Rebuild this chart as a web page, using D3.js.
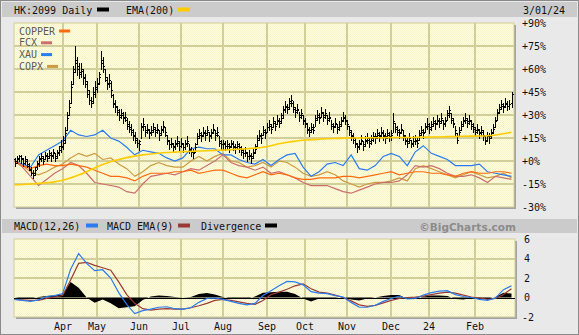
<!DOCTYPE html>
<html><head><meta charset="utf-8">
<script src="https://cdn.jsdelivr.net/npm/d3@7"></script>
<style>html,body{margin:0;padding:0;background:#e9e9e9}svg{display:block}</style>
</head><body><svg id="c" width="579" height="335"></svg>
<script>
// HK:2099 daily bars, % change from first close: [high, low, close]
const bars = [
  // Mar 2023
  [2,-3,0],[3,-1,1],[4,0,3],[4,-1,2],[2,-3,-1],[3,-2,1],[1,-4,-2],[-1,-6,-5],[-4,-9,-8],[-6,-11,-9],[-4,-9,-6],[0,-5,-2],
  [3,-3,1],[5,0,3],[3,-2,0],[6,1,4],[5,0,2],[7,2,5],[6,0,3],[8,2,6],[5,0,2],[7,2,5],[10,4,7],[14,6,9],
  // Apr
  [16,8,12],[22,12,18],[32,20,28],[40,30,35],[52,38,48],[62,50,58],[75,58,66],[68,56,62],[64,54,58],[64,55,60],
  [60,50,55],[57,48,52],[52,42,46],[46,37,40],[42,35,38],[48,38,44],[52,42,47],
  // May
  [54,45,50],[58,50,55],[72,60,66],[68,58,62],[60,52,55],[55,47,50],[57,48,53],[52,42,46],[44,35,38],[40,32,36],
  [36,30,33],[34,27,30],[34,28,31],[32,25,28],[32,26,29],[28,21,24],[26,19,22],[24,17,20],[21,14,17],[19,12,15],[15,9,12],
  // Jun
  [14,7,11],[25,15,22],[28,20,24],[23,16,19],[24,18,21],[21,15,18],[23,17,20],[25,19,22],[22,16,19],[24,18,21],
  [20,14,17],[23,17,20],[26,19,23],[22,16,19],[17,11,14],[14,8,11],[15,9,12],[12,6,9],[14,8,11],[16,10,13],[13,7,10],
  // Jul
  [15,9,12],[12,6,9],[14,8,11],[16,10,13],[11,5,8],[9,3,6],[8,2,5],[12,6,9],[18,11,15],[21,15,18],
  [19,13,16],[22,16,19],[20,14,17],[23,17,20],[19,13,16],[21,15,18],[24,18,21],[20,14,17],[22,16,19],[16,10,13],[14,8,11],
  // Aug
  [14,8,12],[13,7,10],[14,8,11],[12,6,9],[14,9,12],[13,7,10],[11,5,8],[13,8,11],[12,6,9],[10,4,7],[8,2,5],[9,3,6],
  [6,0,3],[7,1,4],[5,-1,2],[8,2,5],[11,5,8],[17,10,14],[20,14,17],[18,12,15],[23,17,20],[21,15,18],[25,19,22],
  // Sep
  [27,20,24],[24,18,21],[29,22,26],[26,20,23],[30,24,27],[28,22,25],[31,25,28],[36,28,33],[39,32,36],[37,31,34],
  [41,34,38],[43,36,40],[39,32,35],[35,29,32],[37,31,34],[32,26,29],[34,28,31],[30,24,27],[28,22,25],
  // Oct
  [25,18,21],[22,16,19],[25,19,22],[24,18,20],[30,23,27],[33,27,30],[31,25,28],[35,29,32],[32,26,29],[34,28,31],
  [30,24,27],[32,26,29],[27,21,24],[25,19,22],[28,22,25],[24,18,21],[26,20,23],[29,23,26],[32,26,29],[30,24,27],
  // Nov
  [27,21,24],[23,17,20],[20,14,17],[18,12,15],[15,9,12],[12,6,9],[14,8,11],[17,11,14],[13,7,10],[16,10,13],[18,12,15],
  [15,9,12],[17,11,14],[19,13,16],[18,12,15],[21,15,18],[19,13,16],[22,16,19],[20,14,17],[18,12,15],[21,15,18],[19,13,16],
  // Dec
  [20,14,17],[31,19,26],[25,19,22],[23,17,20],[21,15,18],[24,18,21],[20,14,17],[17,11,14],[15,9,12],[18,12,15],
  [14,9,11],[16,10,13],[17,11,14],[15,9,12],[20,14,17],[23,17,20],[21,15,18],[25,19,22],[28,21,24],
  // Jan 2024
  [25,18,21],[26,20,23],[29,23,26],[27,21,24],[30,24,27],[28,22,25],[31,25,28],[27,21,24],[29,23,26],[33,27,30],[36,29,33],
  [31,25,28],[28,22,25],[23,17,20],[18,12,14],[22,16,19],[26,20,23],[29,23,26],[31,25,28],[28,22,25],[30,24,27],[27,21,24],
  // Feb
  [25,19,22],[22,16,19],[24,18,21],[21,15,18],[23,17,20],[20,14,17],[16,11,13],[19,13,16],[18,12,15],[21,15,18],
  [24,18,21],[29,22,26],[34,27,31],[37,31,34],[40,34,37],[38,32,35],[41,35,38],[39,33,36],[40,34,37],
  // Mar 1
  [45,35,44]
];
// opening levels for the same sessions (% change)
const opens = [
  1,-1,2,3,1,-1,0,-3,-6,-8,-8,-4,-1,2,2,1,3,3,4,4,5,3,6,10,
  10,14,20,30,38,50,60,64,60,57,59,54,50,44,40,39,45,
  48,51,57,64,60,53,51,51,43,37,35,32,29,30,29,27,23,21,19,16,14,
  12,13,23,23,20,20,19,19,21,20,20,18,21,22,17,13,11,11,10,12,12,
  10,11,9,12,12,7,6,6,11,16,17,17,18,18,19,17,19,20,18,17,12,
  11,11,10,10,10,11,9,9,10,8,6,5,5,3,3,3,6,10,15,16,17,19,19,
  22,23,22,25,24,26,26,30,34,35,35,39,38,34,33,33,30,30,26,
  24,20,20,21,22,28,29,29,31,30,30,28,28,23,23,24,22,24,27,28,
  26,23,19,16,14,11,10,12,13,11,14,14,13,15,16,16,17,17,18,16,16,17,
  16,18,25,21,19,19,20,16,13,13,14,12,13,13,14,18,19,19,23,
  23,22,24,25,25,26,26,27,25,27,31,31,27,24,18,16,20,24,27,27,26,26,
  23,21,20,20,19,19,16,14,16,16,19,22,27,32,35,36,36,37,36,
  38
];

// Overlay series, sampled every 4th session (% change)
const sampleStep = 4;
const ema200 = [-15.5,-15.3,-15,-14.6,-14.2,-13.6,-12.6,-11,-9.2,-7,-4.5,-2.3,-0.5,1,2.2,3.2,4,4.6,5.1,5.5,5.8,6.1,6.3,6.5,6.7,6.9,7.1,7.4,7.7,8,8.4,9,10,11.2,12.2,12.9,13.5,13.9,14.2,14.5,14.7,14.9,15,15,15.1,15.2,15.2,15.3,15.3,15.3,15.4,15.5,15.6,15.7,15.9,16,16.1,16.2,16.3,16.5,17,17.8,18.8];
const copper = [0,-3,-5,-3,-2,-3,-3,-2,-3,-4,-6,-8,-10,-10,-11,-13,-10,-8,-8,-8,-7,-7,-6,-8,-7,-6,-6,-8,-10,-11,-9,-7,-9,-8,-9,-11,-12,-12,-11,-11,-11,-10,-10,-11,-10,-9,-8,-7,-9,-8,-7,-7,-8,-8,-9,-10,-8,-7,-8,-8,-7,-7,-8];
const fcx = [0,-4,-10,-16,-12,-8,-5,-1,-3,-8,-14,-15,-16,-17,-20,-21,-15,-10,-9,-8,-9,-7,-5,-6,-3,0,4,-1,-3,-4,-6,-4,-8,-7,-9,-11,-14,-16,-16,-16,-18,-20,-21,-19,-17,-15,-14,-14,-13,-9,-3,-4,-3,-5,-8,-10,-10,-9,-11,-14,-10,-11,-12];
const xau = [0,-2,-4,4,7,10,13,20,17,16,17,20,15,13,9,4,7,6,5,2,0,2,8,9,8,8,4,4,1,-1,-2,1,-3,1,4,5,-4,-10,-7,-2,-1,-3,4,-5,-6,-3,3,5,3,-3,6,10,5,3,1,-3,-3,-3,-2,-7,-8,-9,-10];
const copx = [0,-3,-7,-9,-7,-4,-2,2,5,3,5,1,2,-2,-5,-10,-7,-3,-1,-3,-4,-4,0,3,0,3,5,0,-1,-4,-3,-1,-4,0,-1,-4,-8,-10,-9,-7,-9,-13,-15,-17,-15,-14,-14,-13,-11,-13,-5,-3,-5,-7,-9,-11,-9,-7,-9,-11,-10,-8,-11];

// MACD(12,26), its 9-day EMA and the divergence, same sampling
const macd = [-0.2,-0.3,-0.4,-0.25,0.1,0.2,0.4,2.9,4.5,3.5,2.75,2.85,2.0,0.5,-0.7,-1.65,-1.35,-1.2,-1.0,-0.95,-1.15,-1.2,-1.05,-0.5,-0.1,-0.05,-0.2,-0.4,-0.6,-0.75,-0.6,0.2,0.7,1.2,1.65,1.6,1.3,0.6,0.45,0.4,0.2,0.05,-0.5,-1.0,-1.0,-0.8,-0.4,-0.1,0.15,-0.15,-0.1,0.25,0.5,0.65,0.7,0.3,0.1,0.0,-0.2,-0.3,-0.05,0.8,1.2];
const macdSignal = [-0.2,-0.25,-0.3,-0.3,-0.1,0.05,0.2,1.8,3.5,3.6,3.3,3.05,2.8,1.6,0.3,-0.6,-1.15,-1.3,-1.2,-1.15,-1.2,-1.2,-1.05,-0.85,-0.6,-0.3,-0.2,-0.3,-0.45,-0.6,-0.7,-0.3,0.3,0.55,0.85,1.2,1.4,0.9,0.55,0.45,0.25,0.0,-0.35,-0.75,-0.9,-0.8,-0.55,-0.3,-0.1,0.0,0.05,0.15,0.3,0.45,0.55,0.45,0.25,0.05,-0.05,-0.2,-0.1,0.3,0.9];
const divergence = [0,-0.1,-0.1,0.05,0.15,0.2,0.3,1.6,1.0,0.0,-0.55,-0.2,-0.6,-1.1,-1.0,-0.9,-0.25,0.1,0.2,0.15,0.05,0.0,0.05,0.35,0.45,0.3,0.05,-0.1,-0.15,-0.15,0.1,0.5,0.55,0.6,0.6,0.35,-0.1,-0.4,-0.1,-0.05,-0.05,0.05,-0.2,-0.3,-0.1,0.0,0.15,0.25,0.25,-0.15,-0.15,0.1,0.2,0.2,0.15,-0.15,-0.2,-0.05,-0.15,-0.1,0.05,0.5,0.4];

// Axis ticks
const monthLabels = ["Apr","May","Jun","Jul","Aug","Sep","Oct","Nov","Dec","24","Feb"];
const monthStarts = [24,41,62,83,104,126,145,166,188,207,230];
const pctTicks = [90,75,60,45,30,15,0,-15,-30];
const macdTicks = [6,4,2,0,-2];

const overlays = [
  {name:"COPPER", values:copper, color:"#ff6a10"},
  {name:"FCX", values:fcx, color:"#cc6e6e"},
  {name:"XAU", values:xau, color:"#2a7cf0"},
  {name:"COPX", values:copx, color:"#cc9a40"}
];

const W = 579, H = 335;
const mono = "'DejaVu Sans Mono', monospace";
const svg = d3.select("#c");

const main = {l:14, r:514, t:23, b:207};
const low = {l:14, r:515, t:239, b:317};

const x = d3.scaleLinear().domain([0, bars.length - 1]).range([14.5, 511.5]);
const y = d3.scaleLinear().domain([-30, 90]).range([main.b, main.t]);
const my = d3.scaleLinear().domain([-2, 6]).range([low.b, low.t]);

// dithered pale-yellow plot fill
const defs = svg.append("defs");
const pat = defs.append("pattern").attr("id","dith").attr("width",2).attr("height",2).attr("patternUnits","userSpaceOnUse");
pat.append("rect").attr("width",2).attr("height",2).attr("fill","#ffffe0");
pat.append("rect").attr("x",0).attr("y",0).attr("width",1).attr("height",1).attr("fill","#f6f3c8");
pat.append("rect").attr("x",1).attr("y",1).attr("width",1).attr("height",1).attr("fill","#f6f3c8");
defs.append("clipPath").attr("id","clipMain").append("rect")
  .attr("x",main.l).attr("y",main.t).attr("width",main.r-main.l).attr("height",main.b-main.t);
defs.append("clipPath").attr("id","clipLow").append("rect")
  .attr("x",low.l).attr("y",low.t).attr("width",low.r-low.l).attr("height",low.b-low.t);

// page frame and title bars
svg.append("rect").attr("x",0.5).attr("y",0.5).attr("width",W-1).attr("height",H-1)
  .attr("fill","#e9e9e9").attr("stroke","#8a8a8a");
svg.append("rect").attr("x",2).attr("y",2).attr("width",W-4).attr("height",15).attr("fill","#cbcbcb");
svg.append("rect").attr("x",2).attr("y",219).attr("width",W-4).attr("height",14).attr("fill","#cbcbcb");

function legendRow(g, items, yBase) {
  items.forEach(it => {
    g.append("text").attr("x",it.x).attr("y",yBase).attr("font-family",mono).attr("font-size",10)
      .attr("fill","#111").text(it.text);
    g.append("rect").attr("x",it.sx).attr("y",yBase-6).attr("width",12).attr("height",4).attr("fill",it.color);
  });
}
const head = svg.append("g");
legendRow(head, [
  {text:"HK:2099 Daily", x:14, sx:97, color:"#000"},
  {text:"EMA(200)", x:126, sx:178, color:"#ffcc00"}
], 13.5);
head.append("text").attr("x",523).attr("y",13.5).attr("font-family",mono).attr("font-size",10)
  .attr("fill","#111").text("3/01/24");
legendRow(head, [
  {text:"MACD(12,26)", x:14, sx:86, color:"#2a7cf0"},
  {text:"MACD EMA(9)", x:107, sx:178, color:"#9a3a36"},
  {text:"Divergence", x:201, sx:265, color:"#000"}
], 229.5);
head.append("text").attr("x",516).attr("y",230.5).attr("text-anchor","end")
  .attr("font-family","'DejaVu Sans', sans-serif").attr("font-weight","bold").attr("font-size",10.5)
  .attr("fill","#8c8c8c").text("\u00A9BigCharts.com");

// plot panels with shadow
function panel(p) {
  svg.append("rect").attr("x",p.l+2).attr("y",p.t+2).attr("width",p.r-p.l).attr("height",p.b-p.t).attr("fill","#a3a3a3");
  svg.append("rect").attr("x",p.l).attr("y",p.t).attr("width",p.r-p.l).attr("height",p.b-p.t)
    .attr("fill","url(#dith)").attr("stroke","#cfcb98").attr("stroke-width",1);
}
panel(main);
panel(low);

const gridColor = "#d2ce9a";
// main grid
const gm = svg.append("g").attr("clip-path","url(#clipMain)");
gm.selectAll(".h").data(pctTicks.filter(t => t > -30 && t < 90)).join("line")
  .attr("x1",main.l).attr("x2",main.r).attr("y1",d=>Math.round(y(d))).attr("y2",d=>Math.round(y(d)))
  .attr("stroke",gridColor).attr("stroke-width",2);
gm.selectAll(".v").data(monthStarts).join("line")
  .attr("x1",d=>Math.round(x(d))).attr("x2",d=>Math.round(x(d))).attr("y1",main.t).attr("y2",main.b)
  .attr("stroke",gridColor).attr("stroke-width",2);

// overlay comparison lines
const lineOf = d3.line().x((d,k)=>x(k*sampleStep)).y(d=>y(d));
overlays.slice().reverse().forEach(o => {
  gm.append("path").attr("d",lineOf(o.values)).attr("fill","none").attr("stroke",o.color).attr("stroke-width",1.2);
});

// price bars: high-low stem, open tick left, close tick right (pixel aligned)
const gb = gm.append("g").attr("stroke","#000").attr("stroke-width",1).attr("shape-rendering","crispEdges");
bars.forEach((b,i) => {
  const rx = Math.round(x(i));
  const bx = rx + 0.5;
  gb.append("line").attr("x1",bx).attr("x2",bx).attr("y1",Math.round(y(b[0]))).attr("y2",Math.round(y(b[1])) + 1);
  const oy = Math.round(y(opens[i])) + 0.5;
  gb.append("line").attr("x1",rx-1).attr("x2",rx).attr("y1",oy).attr("y2",oy);
  const cy = Math.round(y(b[2])) + 0.5;
  gb.append("line").attr("x1",rx+1).attr("x2",rx+2).attr("y1",cy).attr("y2",cy);
});

// 200-day EMA
gm.append("path").attr("d",d3.line().x((d,k)=>x(k*sampleStep)).y(d=>y(d)).curve(d3.curveMonotoneX)(ema200))
  .attr("fill","none").attr("stroke","#ffcc00").attr("stroke-width",1.6);

// legend inside price panel
overlays.forEach((o,k) => {
  const by = 34.5 + k*11.8;
  svg.append("text").attr("x",19).attr("y",by).attr("font-family",mono).attr("font-size",10)
    .attr("fill","#5a5a5a").text(o.name);
  svg.append("rect").attr("x",19 + o.name.length*6.02 + 4).attr("y",by-5).attr("width",11).attr("height",3).attr("fill",o.color);
});

// right % axis
svg.append("g").selectAll("text").data(pctTicks).join("text")
  .attr("x",522).attr("y",d=>y(d)+3.5).attr("font-family",mono).attr("font-size",10).attr("fill","#111")
  .text(d => (d >= 0 ? "+" : "") + d + "%");

// MACD panel
const gl = svg.append("g").attr("clip-path","url(#clipLow)");
gl.selectAll(".h").data(macdTicks.filter(t => t > -2 && t < 6 && t !== 0)).join("line")
  .attr("x1",low.l).attr("x2",low.r).attr("y1",d=>Math.round(my(d))).attr("y2",d=>Math.round(my(d)))
  .attr("stroke",gridColor).attr("stroke-width",2);
gl.selectAll(".v").data(monthStarts).join("line")
  .attr("x1",d=>Math.round(x(d))).attr("x2",d=>Math.round(x(d))).attr("y1",low.t).attr("y2",low.b)
  .attr("stroke",gridColor).attr("stroke-width",2);
gl.append("path").attr("d", d3.area().x((d,k)=>x(k*sampleStep)).y0(my(0)).y1(d=>my(d))(divergence))
  .attr("fill","#000");
gl.append("line").attr("x1",low.l).attr("x2",low.r).attr("y1",Math.round(my(0))+0.5).attr("y2",Math.round(my(0))+0.5)
  .attr("stroke","#000").attr("stroke-width",1);
const mline = d3.line().x((d,k)=>x(k*sampleStep)).y(d=>my(d));
gl.append("path").attr("d",mline(macdSignal)).attr("fill","none").attr("stroke","#9a3a36").attr("stroke-width",1.2);
gl.append("path").attr("d",mline(macd)).attr("fill","none").attr("stroke","#2a7cf0").attr("stroke-width",1.2);

svg.append("g").selectAll("text").data(macdTicks).join("text")
  .attr("x",d => d < 0 ? 522 : 524).attr("y",d=>my(d)+3.5).attr("font-family",mono).attr("font-size",10).attr("fill","#111")
  .text(d => d);

// month labels
svg.append("g").selectAll("text").data(monthStarts).join("text")
  .attr("x",d=>Math.round(x(d))).attr("y",329.5).attr("text-anchor","middle")
  .attr("font-family",mono).attr("font-size",10).attr("fill","#111")
  .text((d,k) => monthLabels[k]);
</script></body></html>
